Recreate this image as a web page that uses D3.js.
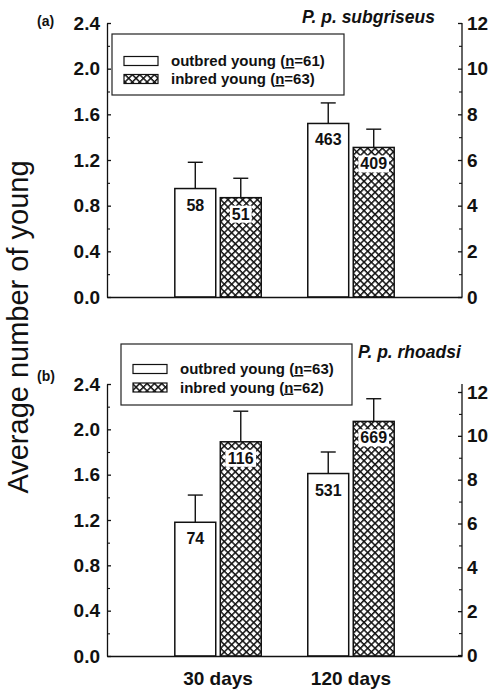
<!DOCTYPE html>
<html>
<head>
<meta charset="utf-8">
<script src="https://cdn.jsdelivr.net/npm/d3@7"></script>
<style>
  html, body { margin: 0; padding: 0; background: #fff; }
  svg { display: block; }
  text { font-family: "Liberation Sans", Arial, Helvetica, sans-serif; fill: #111; }
</style>
</head>
<body>
<svg id="chart" width="492" height="692"></svg>
<script>
// ---------------- data ----------------
const categories = ["30 days", "120 days"];
const seriesNames = ["outbred young", "inbred young"];

const aOutbredMean = [0.95, 1.52];
const aOutbredSE   = [0.23, 0.18];
const aInbredMean  = [0.87, 1.31];
const aInbredSE    = [0.17, 0.16];
const aOutbredN    = [58, 463];
const aInbredN     = [51, 409];
const aLegendN     = [61, 63];

const bOutbredMean = [1.18, 1.61];
const bOutbredSE   = [0.24, 0.19];
const bInbredMean  = [1.89, 2.07];
const bInbredSE    = [0.27, 0.20];
const bOutbredN    = [74, 531];
const bInbredN     = [116, 669];
const bLegendN     = [63, 62];

const leftTicks  = [0, 0.4, 0.8, 1.2, 1.6, 2.0, 2.4];
const leftMinor  = [0.2, 0.6, 1.0, 1.4, 1.8, 2.2];
const rightTicks = [0, 2, 4, 6, 8, 10, 12];
const rightMinor = [1, 3, 5, 7, 9, 11];

const panelLabels = ["(a)", "(b)"];
const speciesNames = ["P. p. subgriseus", "P. p. rhoadsi"];
const yTitle = "Average number of young";

// ---------------- layout ----------------
const svg = d3.select("#chart");
const X0 = 107, X1 = 462;
const FONT = "'Liberation Sans', Arial, Helvetica, sans-serif";

const defs = svg.append("defs");
const P = 5.2;
const pat = defs.append("pattern")
  .attr("id", "hatch").attr("patternUnits", "userSpaceOnUse")
  .attr("width", P).attr("height", P)
  .attr("patternTransform", "rotate(45)");
pat.append("rect").attr("width", P).attr("height", P).attr("fill", "#fff");
pat.append("line").attr("x1", 0).attr("y1", 0).attr("x2", P).attr("y2", 0)
  .attr("stroke", "#111").attr("stroke-width", 3.0);
pat.append("line").attr("x1", 0).attr("y1", 0).attr("x2", 0).attr("y2", P)
  .attr("stroke", "#111").attr("stroke-width", 3.0);

const x = d3.scaleBand().domain(categories).range([X0, X1])
  .paddingInner(0.35).paddingOuter(0.51);
const xs = d3.scaleBand().domain(seriesNames).range([0, x.bandwidth()])
  .paddingInner(0.1);

const panels = [
  {top: 23, bottom: 297, rTop: 23, rBottom: 297,
   means: [aOutbredMean, aInbredMean], se: [aOutbredSE, aInbredSE],
   ns: [aOutbredN, aInbredN], legendN: aLegendN,
   legend: {x: 112, y: 34, w: 232, h: 61, sx: 124, tx: 171, r0: 61, r1: 79},
   label: {x: 37, y: 26}, species: {x: 435, y: 23, anchor: "end"}, showX: false},
  {top: 384, bottom: 656, rTop: 392, rBottom: 655,
   means: [bOutbredMean, bInbredMean], se: [bOutbredSE, bInbredSE],
   ns: [bOutbredN, bInbredN], legendN: bLegendN,
   legend: {x: 121, y: 344, w: 231, h: 61, sx: 133, tx: 180, r0: 369, r1: 387.5},
   label: {x: 37, y: 381}, species: {x: 358, y: 358, anchor: "start"}, showX: true}
];

panels.forEach((p, pi) => {
  const g = svg.append("g");
  const y = d3.scaleLinear().domain([0, 2.4]).range([p.bottom, p.top]);
  const yr = d3.scaleLinear().domain([0, 12]).range([p.rBottom, p.rTop]);

  // bars
  seriesNames.forEach((s, si) => {
    categories.forEach((c, ci) => {
      const m = p.means[si][ci], e = p.se[si][ci];
      const bx = x(c) + xs(s), bw = xs.bandwidth(), cx = bx + bw / 2;
      // error bar
      g.append("line").attr("x1", cx).attr("x2", cx)
        .attr("y1", y(m)).attr("y2", y(m + e))
        .attr("stroke", "#111").attr("stroke-width", 1.4);
      g.append("line").attr("x1", cx - 7.5).attr("x2", cx + 7.5)
        .attr("y1", y(m + e)).attr("y2", y(m + e))
        .attr("stroke", "#111").attr("stroke-width", 1.4);
      g.append("rect").attr("x", bx).attr("y", y(m))
        .attr("width", bw).attr("height", y(0) - y(m))
        .attr("fill", si === 0 ? "#fff" : "url(#hatch)")
        .attr("stroke", "#111").attr("stroke-width", 1.5);
      const label = String(p.ns[si][ci]);
      if (si === 1) {
        const tw = label.length * 8.9;
        g.append("rect").attr("x", cx - tw / 2 - 2).attr("y", y(m) + 8)
          .attr("width", tw + 4).attr("height", 17).attr("fill", "#fff");
      }
      g.append("text").attr("x", cx).attr("y", y(m) + 22)
        .attr("text-anchor", "middle").attr("font-size", 16)
        .attr("font-weight", "bold").text(label);
    });
  });

  // left axis
  const la = g.append("g").attr("transform", `translate(${X0},0)`)
    .call(d3.axisLeft(y).tickValues(leftTicks).tickFormat(d3.format(".1f"))
      .tickSize(-4).tickSizeOuter(0).tickPadding(7));
  la.selectAll("text").attr("font-size", 19).attr("font-weight", "bold")
    .attr("font-family", FONT).attr("fill", "#111");
  la.selectAll("line, path").attr("stroke", "#111").attr("stroke-width", 1.3);
  g.append("g").attr("transform", `translate(${X0},0)`)
    .call(d3.axisLeft(y).tickValues(leftMinor).tickFormat("").tickSize(-3).tickSizeOuter(0))
    .call(s => s.select(".domain").remove())
    .selectAll("line").attr("stroke", "#111").attr("stroke-width", 1.1);

  // right axis
  const ra = g.append("g").attr("transform", `translate(${X1},0)`)
    .call(d3.axisRight(yr).tickValues(rightTicks).tickFormat(d3.format("d"))
      .tickSize(-4).tickSizeOuter(0).tickPadding(5));
  ra.select(".domain").remove();
  ra.selectAll("text").attr("font-size", 19).attr("font-weight", "bold")
    .attr("font-family", FONT).attr("fill", "#111");
  ra.selectAll("line").attr("stroke", "#111").attr("stroke-width", 1.3);
  g.append("g").attr("transform", `translate(${X1},0)`)
    .call(d3.axisRight(yr).tickValues(rightMinor).tickFormat("").tickSize(-3).tickSizeOuter(0))
    .call(s => s.select(".domain").remove())
    .selectAll("line").attr("stroke", "#111").attr("stroke-width", 1.1);
  g.append("line").attr("x1", X1).attr("x2", X1)
    .attr("y1", y(0)).attr("y2", y(2.4))
    .attr("stroke", "#111").attr("stroke-width", 1.3);

  // bottom axis
  const ba = g.append("g").attr("transform", `translate(0,${y(0)})`)
    .call(d3.axisBottom(x).tickSize(0).tickSizeOuter(0).tickPadding(16));
  ba.select(".domain").attr("stroke", "#111").attr("stroke-width", 1.4);
  if (p.showX) {
    ba.selectAll("text").attr("font-size", 19).attr("font-weight", "bold")
      .attr("font-family", FONT).attr("fill", "#111");
  } else {
    ba.selectAll("text").remove();
  }

  // legend
  const L = p.legend;
  const lg = g.append("g");
  lg.append("rect").attr("x", L.x).attr("y", L.y).attr("width", L.w).attr("height", L.h)
    .attr("fill", "#fff").attr("stroke", "#222").attr("stroke-width", 1.2);
  [L.r0, L.r1].forEach((ry, i) => {
    lg.append("rect").attr("x", L.sx).attr("y", ry - 4.5).attr("width", 34).attr("height", 9)
      .attr("fill", i === 0 ? "#fff" : "url(#hatch)")
      .attr("stroke", "#111").attr("stroke-width", 1.2);
    const t = lg.append("text").attr("x", L.tx).attr("y", ry + 5)
      .attr("font-size", 15).attr("font-weight", "bold");
    t.append("tspan").text(seriesNames[i] + " (");
    t.append("tspan").attr("text-decoration", "underline").text("n");
    t.append("tspan").text("=" + p.legendN[i] + ")");
  });

  // panel label and species
  g.append("text").attr("x", p.label.x).attr("y", p.label.y)
    .attr("font-size", 14).attr("font-weight", "bold").text(panelLabels[pi]);
  g.append("text").attr("x", p.species.x).attr("y", p.species.y)
    .attr("text-anchor", p.species.anchor)
    .attr("font-size", 17.5).attr("font-weight", "bold").attr("font-style", "italic")
    .text(speciesNames[pi]);
});

// y title
svg.append("text")
  .attr("transform", "translate(28,327) rotate(-90)")
  .attr("text-anchor", "middle").attr("font-size", 29)
  .text(yTitle);
</script>
</body>
</html>
